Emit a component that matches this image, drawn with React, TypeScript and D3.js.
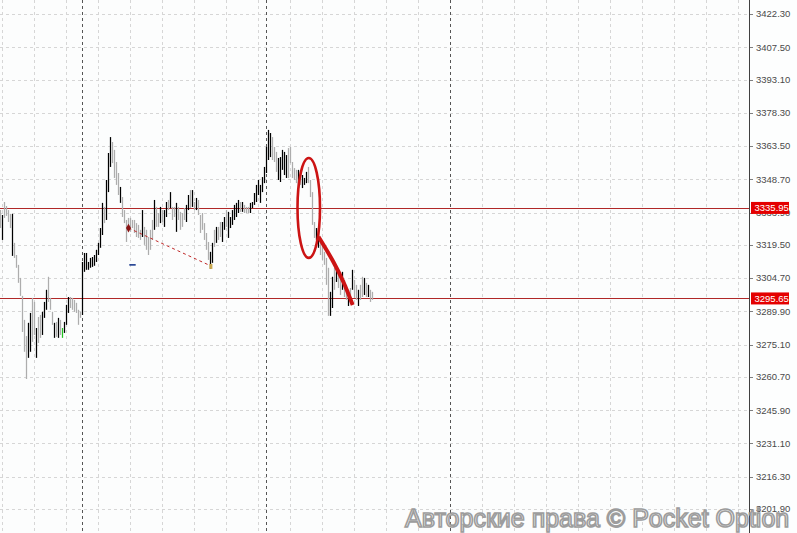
import React from "react";
import * as d3 from "d3";

const W = 797;
const H = 533;

// Price axis tick labels
const tickLabels = ["3422.30","3407.50","3393.10","3378.30","3363.50","3348.70","3333.90","3319.50","3304.70","3289.90","3275.10","3260.70","3245.90","3231.10","3216.30","3201.90"];

// Horizontal levels
const levels = [3335.95, 3295.65];

// Bar data (one per bar, left to right)
const highs = [
  3335.0, 3332.8, 3338.6, 3336.8, 3335.0, 3333.3, 3333.3, 3320.4, 3315.0, 3310.6,
  3304.8, 3296.8, 3286.1, 3278.9, 3284.8, 3289.2, 3295.9, 3294.1, 3282.5, 3287.4,
  3288.3, 3289.7, 3294.1, 3299.5, 3305.3, 3295.9, 3289.7, 3284.8, 3285.2, 3287.0,
  3286.1, 3282.5, 3285.2, 3292.8, 3296.3, 3296.3, 3295.9, 3295.0, 3293.7, 3290.6,
  3289.7, 3311.9, 3315.9, 3315.9, 3311.9, 3313.7, 3314.1, 3315.0, 3317.3, 3320.4,
  3327.0, 3338.2, 3336.4, 3348.4, 3360.4, 3367.5, 3365.3, 3361.8, 3356.4, 3351.5,
  3345.3, 3340.8, 3335.0, 3330.6, 3331.5, 3331.5, 3330.6, 3330.6, 3329.2, 3328.4,
  3326.2, 3335.0, 3327.5, 3326.2, 3323.0, 3326.2, 3330.6, 3339.5, 3336.4, 3333.7,
  3336.4, 3335.0, 3335.0, 3338.6, 3339.5, 3343.0, 3336.4, 3336.4, 3338.2, 3336.4,
  3334.2, 3333.7, 3335.9, 3337.3, 3341.7, 3343.9, 3343.9, 3338.6, 3340.4, 3339.5,
  3332.8, 3333.7, 3329.2, 3324.8, 3320.8, 3316.4, 3320.4, 3326.2, 3327.5, 3327.5,
  3329.7, 3329.7, 3331.9, 3335.0, 3334.2, 3331.9, 3335.0, 3337.3, 3338.2, 3339.5,
  3338.6, 3338.6, 3337.3, 3336.4, 3336.4, 3338.2, 3338.6, 3342.6, 3346.2, 3348.4,
  3346.2, 3349.7, 3354.2, 3363.1, 3370.7, 3369.3, 3367.5, 3363.1, 3360.9, 3358.2,
  3358.6, 3361.8, 3360.9, 3359.5, 3362.6, 3363.1, 3356.4, 3353.7, 3352.9, 3352.9,
  3352.0, 3350.6, 3349.3, 3352.0, 3354.2, 3348.4, 3343.0, 3329.7, 3327.0, 3327.0,
  3322.6, 3320.4, 3316.4, 3313.7, 3309.3, 3298.6, 3305.3, 3309.3, 3309.3, 3307.5,
  3304.8, 3307.5, 3303.9, 3301.7, 3299.5, 3300.3, 3308.4, 3303.9, 3301.7, 3299.5,
  3301.7, 3305.3, 3304.8, 3302.6, 3301.7, 3299.5, 3298.6,
];
const lows = [
  3327.0, 3321.7, 3331.5, 3332.4, 3329.7, 3327.0, 3314.6, 3313.7, 3309.3, 3302.6,
  3296.8, 3280.7, 3271.9, 3259.8, 3269.2, 3271.9, 3276.3, 3279.4, 3269.2, 3275.8,
  3278.1, 3279.4, 3287.0, 3290.6, 3294.1, 3290.6, 3283.9, 3278.1, 3278.5, 3278.1,
  3279.4, 3278.1, 3280.3, 3283.9, 3289.2, 3291.4, 3290.6, 3289.7, 3289.2, 3283.9,
  3287.0, 3288.3, 3307.5, 3308.4, 3308.4, 3309.3, 3309.7, 3310.2, 3311.9, 3315.0,
  3318.2, 3323.9, 3329.2, 3330.6, 3343.0, 3354.2, 3355.9, 3349.3, 3346.2, 3341.7,
  3338.2, 3331.9, 3329.2, 3320.8, 3326.2, 3325.3, 3327.0, 3324.8, 3323.0, 3322.6,
  3321.7, 3323.0, 3319.5, 3317.3, 3315.0, 3317.3, 3321.7, 3326.2, 3327.5, 3327.5,
  3329.2, 3329.7, 3327.5, 3331.9, 3335.0, 3335.9, 3330.6, 3331.9, 3325.3, 3330.6,
  3326.2, 3327.5, 3330.6, 3329.7, 3335.0, 3335.9, 3336.4, 3335.0, 3335.0, 3332.8,
  3324.8, 3326.2, 3321.7, 3317.3, 3312.8, 3308.8, 3311.5, 3318.6, 3320.4, 3321.7,
  3323.0, 3320.8, 3326.2, 3327.5, 3322.6, 3327.0, 3328.4, 3330.6, 3331.9, 3333.7,
  3334.2, 3334.2, 3333.7, 3333.7, 3333.7, 3333.7, 3335.9, 3337.3, 3338.6, 3341.7,
  3338.2, 3343.0, 3347.0, 3351.5, 3357.3, 3358.6, 3357.3, 3356.4, 3352.0, 3348.4,
  3347.5, 3352.9, 3350.6, 3349.3, 3349.3, 3355.9, 3349.3, 3348.4, 3347.0, 3344.8,
  3346.2, 3344.8, 3346.2, 3347.0, 3347.0, 3340.8, 3328.4, 3322.6, 3321.7, 3318.2,
  3315.0, 3312.8, 3310.6, 3301.7, 3287.9, 3287.9, 3291.4, 3299.5, 3303.0, 3300.3,
  3297.2, 3299.5, 3296.3, 3295.0, 3292.3, 3293.7, 3299.5, 3295.9, 3295.0, 3292.3,
  3295.0, 3296.3, 3297.2, 3296.3, 3296.3, 3294.1, 3295.0,
];
// u = bullish, d = bearish, g = highlighted bar
const kinds = (
  "dudddduddd" + "dddduuddud" + "duuudddudu" + "dguuuddddd" + "duuuuuuuuu" +
  "uuduuudddd" + "uddddddddd" + "dudddddudd" + "uduududdud" + "ddduududud" +
  "ddddduudud" + "duuduuuuuu" + "duddduuuuu" + "uuuuuudddu" + "uuuudddddu" +
  "duuudddduu" + "ddddduudud" + "duddududdu" + "ddududd"
).split("");

// Period separators (bar index)
const separators = [41, 133, 225];

// Annotations
const trendFrom = { bar: 64, price: 3327.0 };
const trendTo = { bar: 105, price: 3310.2 };
const ellipse = { barLeft: 148.5, barRight: 159.75, priceTop: 3358.2, priceBottom: 3313.7 };
const arrowCurve = [
  { bar: 159.0, price: 3323.1 },
  { bar: 166.4, price: 3312.0 },
  { bar: 171.4, price: 3303.1 },
  { bar: 176.1, price: 3292.7 },
];
const blueMark = { barFrom: 64.4, barTo: 67.6, price: 3310.6 };
const goldMark = { bar: 105.2, price: 3309.9 };
const redMark = { bar: 64, price: 3327.0 };

const AXIS_X = 749;

export default function App() {
  const x = d3.scaleLinear().domain([0, 1]).range([0.5, 2.5]);
  const y = d3.scaleLinear().domain([3201.9, 3422.3]).range([509, 14]);
  const tickVals = tickLabels.map(Number);
  const vGrid = d3.range(2, AXIS_X, 32);

  const bars = highs.map((h, i) => ({ i, h, l: lows[i], k: kinds[i] }));
  const color = (k: string) => (k === "u" ? "#000000" : k === "g" ? "#22c022" : "#adadad");

  const curvePath = d3
    .line<{ bar: number; price: number }>()
    .x((d) => x(d.bar))
    .y((d) => y(d.price))
    .curve(d3.curveCatmullRom)(arrowCurve) as string;

  const ex1 = x(ellipse.barLeft), ex2 = x(ellipse.barRight);
  const ey1 = y(ellipse.priceTop), ey2 = y(ellipse.priceBottom);

  const font = "'Liberation Sans', Arial, sans-serif";

  return (
    <svg width={W} height={H} style={{ position: "fixed", left: 0, top: 0, display: "block" }}>
      <rect x={0} y={0} width={W} height={H} fill="#fcfdfd" />
      {/* grid */}
      {vGrid.map((gx) => (
        <line key={"v" + gx} x1={gx + 0.5} x2={gx + 0.5} y1={0} y2={H} stroke="#d6d6d6" strokeDasharray="3,3" />
      ))}
      {tickVals.map((t) => (
        <line key={"h" + t} x1={0} x2={AXIS_X} y1={Math.round(y(t)) + 0.5} y2={Math.round(y(t)) + 0.5} stroke="#d6d6d6" strokeDasharray="3,3" />
      ))}
      {separators.map((s) => (
        <line key={"s" + s} x1={Math.floor(x(s)) + 0.5} x2={Math.floor(x(s)) + 0.5} y1={0} y2={H} stroke="#555" strokeDasharray="3,3" />
      ))}
      {/* level lines */}
      {levels.map((lv) => (
        <line key={"l" + lv} x1={0} x2={AXIS_X} y1={Math.round(y(lv)) + 0.5} y2={Math.round(y(lv)) + 0.5} stroke="#b02828" strokeWidth={1} />
      ))}
      {/* bars */}
      {bars.map((b) => (
        <line key={"b" + b.i} x1={x(b.i)} x2={x(b.i)} y1={y(b.h)} y2={y(b.l)} stroke={color(b.k)} strokeWidth={1.25} />
      ))}
      {/* annotations */}
      <line x1={x(trendFrom.bar)} y1={y(trendFrom.price)} x2={x(trendTo.bar)} y2={y(trendTo.price)} stroke="#c02828" strokeDasharray="3,3" />
      <path d={d3.symbol(d3.symbolDiamond, 22)() as string} transform={`translate(${x(redMark.bar)},${y(redMark.price)})`} fill="#8a1414" />
      <line x1={x(blueMark.barFrom)} x2={x(blueMark.barTo)} y1={y(blueMark.price)} y2={y(blueMark.price)} stroke="#1c3c90" strokeWidth={1.6} />
      <rect x={x(goldMark.bar) - 1.5} y={y(goldMark.price) - 2.5} width={3} height={5} fill="#c8a850" />
      <ellipse cx={(ex1 + ex2) / 2} cy={(ey1 + ey2) / 2} rx={(ex2 - ex1) / 2} ry={(ey2 - ey1) / 2} fill="none" stroke="#cc1414" strokeWidth={2.6} />
      <path d={curvePath} fill="none" stroke="#cc1414" strokeWidth={4} strokeLinecap="butt" />
      {/* axis */}
      <rect x={AXIS_X} y={0} width={W - AXIS_X} height={H} fill="#fdfefe" />
      <line x1={AXIS_X + 0.5} x2={AXIS_X + 0.5} y1={0} y2={H} stroke="#404040" />
      {tickVals.map((t, i) => (
        <g key={"t" + t}>
          <line x1={AXIS_X + 1} x2={AXIS_X + 4} y1={Math.round(y(t)) + 0.5} y2={Math.round(y(t)) + 0.5} stroke="#808080" />
          <text x={756} y={y(t)} dy="0.35em" fontFamily={font} fontSize={9.5} fill="#4a4a4a">
            {tickLabels[i]}
          </text>
        </g>
      ))}
      {levels.map((lv) => (
        <g key={"lb" + lv}>
          <rect x={751} y={y(lv) - 6} width={38} height={12} fill="#e40000" />
          <text x={754.5} y={y(lv)} dy="0.35em" fontFamily={font} fontSize={9.5} fill="#ffffff">
            {lv.toFixed(2)}
          </text>
        </g>
      ))}
      {/* watermark */}
      <text x={405} y={527} fontFamily={font} fontSize={25} fill="#ffffff" stroke="#959595" strokeWidth={1.6} opacity={0.92}>
        Авторские права © Pocket Option
      </text>
    </svg>
  );
}
